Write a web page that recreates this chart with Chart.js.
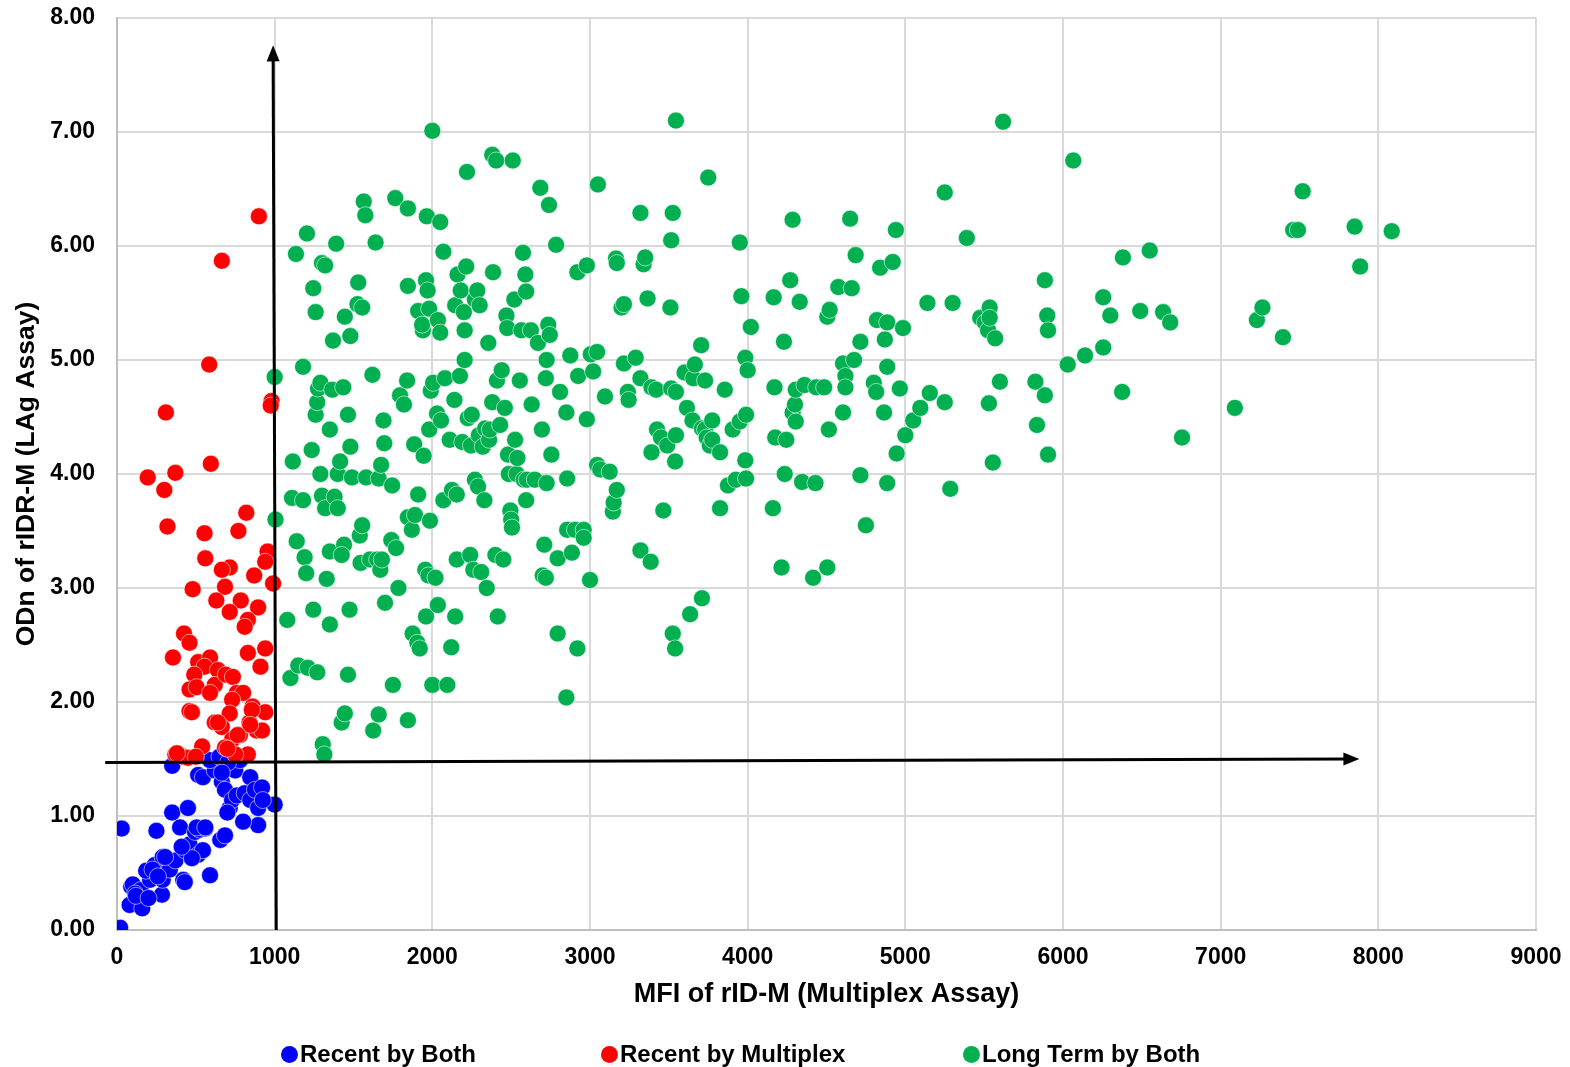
<!DOCTYPE html>
<html>
<head>
<meta charset="utf-8">
<script src="https://cdn.jsdelivr.net/npm/chart.js@4.4.1/dist/chart.umd.min.js"></script>
<style>
  body { margin: 0; background: #fff; }
  #wrap { position: relative; width: 1570px; height: 1067px; }
  #legend { position: absolute; left: 0; top: 1040px; width: 1570px; height: 28px; font: bold 24px "Liberation Sans", Arial, sans-serif; color: #000; }
  .lg-item { position: absolute; top: 0; display: flex; align-items: center; white-space: nowrap; }
  .lg-dot { width: 17px; height: 17px; border-radius: 50%; margin-right: 2px; }
</style>
</head>
<body>
<div id="wrap">
  <canvas id="chart" width="1570" height="1067"></canvas>
  <div id="legend"></div>
</div>
<script>
'use strict';

// --- DADOS ---
const seriesNames = ['Recent by Both', 'Recent by Multiplex', 'Long Term by Both'];
const seriesColors = ['#0000ff', '#ff0000', '#00b050'];

const recentBothX = [20, 30, 250, 80, 90, 100, 150, 160, 210, 185, 240, 285, 290, 290, 335, 370, 350, 350, 400, 420,
  450, 430, 460, 495, 515, 525, 560, 545, 590, 475, 515, 545, 620, 590, 650, 665, 685, 655, 685, 715,
  730, 750, 780, 760, 810, 845, 845, 875, 895, 895, 920, 800, 1000, 925, 115, 225, 305, 410, 505, 560,
  430, 700, 705, 665, 120, 200, 260];
const recentBothY = [0.02, 0.89, 0.87, 0.22, 0.38, 0.40, 0.35, 0.19, 0.44, 0.52, 0.57, 0.31, 0.44, 0.64, 0.53, 0.61, 1.03, 1.44, 0.90, 0.44,
  1.07, 0.70, 0.75, 0.86, 0.66, 0.88, 0.89, 0.70, 0.48, 0.63, 1.36, 1.34, 1.40, 1.49, 1.52, 1.30, 1.23, 0.79, 0.83, 1.07,
  1.14, 1.40, 1.49, 1.18, 1.20, 1.34, 1.14, 1.23, 0.92, 1.07, 1.25, 0.95, 1.10, 1.14, 0.32, 0.53, 0.64, 0.73, 0.90, 0.90,
  0.42, 1.03, 1.47, 1.38, 0.30, 0.28, 0.47];

const recentMultiplexX = [900, 665, 585, 310, 195, 370, 300, 320, 595, 980, 975, 820, 555, 770, 560, 955, 940, 715, 665, 870,
  990, 480, 685, 630, 785, 715, 895, 830, 810, 425, 460, 355, 830, 940, 910, 515, 590, 555, 640, 490,
  620, 460, 505, 590, 690, 735, 760, 800, 730, 460, 715, 860, 940, 620, 840, 665, 885, 920, 780, 730,
  540, 685, 830, 370, 420, 450, 500, 750, 475, 640, 855, 845, 765, 700, 380];
const recentMultiplexY = [6.26, 5.87, 4.96, 4.54, 3.97, 4.01, 3.86, 3.54, 4.09, 4.64, 4.60, 3.66, 3.48, 3.50, 3.26, 3.32, 3.23, 3.18, 3.16, 3.11,
  3.04, 2.99, 3.01, 2.89, 2.89, 2.79, 2.83, 2.72, 2.66, 2.60, 2.52, 2.39, 2.43, 2.47, 2.31, 2.35, 2.39, 2.31, 2.28, 2.24,
  2.15, 2.11, 2.13, 2.08, 2.24, 2.22, 2.08, 2.08, 2.02, 1.92, 1.90, 1.96, 1.91, 1.82, 1.82, 1.78, 1.75, 1.75, 1.71, 1.67,
  1.61, 1.60, 1.54, 1.54, 1.52, 1.51, 1.52, 1.54, 1.91, 1.82, 1.93, 1.80, 1.71, 1.59, 1.55];

const longTermX = [1000, 1005, 1080, 1115, 1110, 1100, 1135, 1140, 1150, 1180, 1180, 1190, 1200, 1205, 1210, 1245, 1235, 1245, 1260, 1270,
  1260, 1270, 1275, 1290, 1300, 1320, 1290, 1300, 1320, 1305, 1315, 1330, 1350, 1350, 1365, 1380, 1350, 1370, 1390, 1400,
  1415, 1400, 1425, 1435, 1445, 1440, 1425, 1445, 1465, 1475, 1480, 1480, 1465, 1490, 1525, 1530, 1540, 1555, 1545, 1555,
  1565, 1575, 1580, 1605, 1620, 1640, 1625, 1660, 1650, 1660, 1670, 1675, 1690, 1680, 1695, 1700, 1740, 1745, 1750, 1765,
  1770, 1785, 1795, 1820, 1840, 1845, 1845, 1845, 1845, 1870, 1875, 1885, 1890, 1910, 1905, 1910, 1920, 1940, 1935, 1945,
  1955, 1960, 1965, 1970, 1960, 1975, 1980, 1980, 1985, 1990, 2000,
  2000, 2005, 2020, 2030, 2035, 2035, 2050, 2050, 2055, 2080, 2070, 2070, 2095, 2110, 2120, 2125, 2140, 2145, 2155, 2145,
  2155, 2160, 2175, 2180, 2190, 2200, 2205, 2215, 2205, 2220, 2225, 2240, 2245, 2250, 2260, 2270, 2270, 2285, 2290, 2295,
  2300, 2310, 2320, 2330, 2335, 2345, 2355, 2360, 2365, 2380, 2380, 2385, 2400, 2405, 2410, 2415, 2430, 2440, 2450, 2460,
  2470, 2475, 2480, 2485, 2495, 2500, 2505, 2510, 2520, 2525, 2535, 2540, 2555, 2565, 2575, 2580, 2590, 2595, 2595, 2600,
  2625, 2630, 2650, 2670, 2685, 2695, 2700, 2710, 2720, 2725, 2720, 2725, 2735, 2740, 2745, 2755, 2785, 2795, 2795, 2810,
  2850, 2850, 2855, 2855, 2875, 2885, 2905, 2920, 2920, 2925, 2960, 2960, 2980, 2980, 3000,
  3005, 3020, 3045, 3050, 3045, 3065, 3095, 3125, 3145, 3150, 3165, 3170, 3170, 3200, 3215, 3215, 3240, 3245, 3290, 3320,
  3320, 3320, 3340, 3350, 3365, 3390, 3390, 3385, 3420, 3425, 3450, 3465, 3490, 3515, 3510, 3525, 3515, 3525, 3545, 3545,
  3540, 3540, 3545, 3600, 3615, 3635, 3650, 3655, 3665, 3705, 3710, 3710, 3730, 3730, 3740, 3750, 3760, 3775, 3775, 3825,
  3825, 3855, 3875, 3905, 3925, 3950, 3950, 3960, 3985, 3990, 3990, 4000,
  4020, 3985, 4160, 4165, 4170, 4175, 4215, 4230, 4235, 4245, 4270, 4285, 4285, 4305, 4300, 4305, 4330, 4345, 4360, 4415,
  4430, 4435, 4485, 4505, 4505, 4515, 4520, 4575, 4605, 4605, 4620, 4620, 4650, 4660, 4675, 4685, 4715, 4715, 4750, 4800,
  4815, 4820, 4840, 4865, 4870, 4885, 4885, 4885, 4920, 4940, 4945, 4965, 4985,
  5000, 5050, 5095, 5140, 5155, 5250, 5250, 5285, 5300, 5390, 5475, 5505, 5525, 5535, 5535, 5530, 5570, 5555, 5600, 5620,
  5825, 5835, 5885, 5885, 5900, 5905, 5905,
  6030, 6065, 6140, 6255, 6255, 6300, 6380, 6375, 6550, 6490, 6635, 6680, 6755, 7090, 7230, 7265, 7395, 7460, 7490, 7520,
  7850, 7885, 8085];
const longTermY = [4.85, 3.60, 2.72, 4.11, 3.79, 2.21, 5.93, 3.41, 2.32, 3.77, 4.94, 3.27, 3.13, 6.11, 2.30, 5.63, 4.21, 2.81, 5.42, 2.26,
  4.52, 4.63, 4.75, 4.80, 5.85, 5.83, 4.00, 3.81, 3.70, 1.63, 1.54, 3.08, 4.39, 2.68, 4.74, 3.80, 3.32, 5.17, 6.02, 4.00,
  4.11, 3.70, 1.82, 4.76, 1.90, 3.38, 3.29, 5.38, 2.24, 2.81, 4.24, 5.21, 4.52, 3.97, 5.49, 5.68, 3.46, 3.55, 3.22, 5.46,
  6.39, 6.27, 3.97, 3.25, 4.87, 6.03, 1.75, 1.89, 3.25, 3.96, 3.16, 4.08, 4.47, 3.25, 4.27, 2.87, 3.42, 3.90, 2.15, 6.42,
  3.35, 3.00, 4.69, 4.61, 4.82, 5.65, 6.33, 1.84, 3.62, 3.51, 2.60, 4.26, 3.64, 3.82, 2.52, 5.43, 2.47, 5.26, 5.31, 4.16,
  3.16, 5.70, 6.26, 5.61, 2.75, 3.11, 5.45, 4.39, 3.59, 4.73, 7.01,
  2.15, 4.80, 3.09, 4.53, 2.85, 5.35, 6.21, 5.24, 4.47, 4.84, 5.95, 3.77, 2.15, 4.30, 2.48, 3.86, 4.65, 5.48, 3.25, 2.75,
  3.82, 5.75, 4.86, 5.61, 4.28, 5.42, 5.00, 5.82, 5.26, 6.65, 4.49, 3.29, 4.25, 4.52, 3.16, 3.95, 5.53, 5.61, 3.89, 4.34,
  5.48, 3.14, 4.24, 3.77, 4.40, 3.00, 5.15, 4.30, 4.39, 6.80, 4.63, 5.77, 3.29, 6.75, 4.82, 2.75, 4.43, 4.91, 3.25, 4.58,
  5.39, 5.28, 4.17, 4.00, 3.68, 3.60, 3.53, 6.75, 5.53, 4.30, 4.00, 4.14, 4.82, 5.26, 5.94, 3.95, 5.75, 5.60, 3.77, 3.95,
  5.26, 4.61, 3.95, 5.15, 6.51, 4.39, 3.11, 3.38, 3.09, 3.92, 4.84, 5.00, 5.31, 6.36, 5.22, 4.17, 6.01, 2.60, 3.26, 4.72,
  2.04, 4.54, 3.51, 3.96, 5.04, 3.31, 3.51, 5.77, 2.47, 4.86, 3.51, 3.44, 5.83, 4.48, 3.07,
  5.05, 4.90, 5.07, 6.54, 4.08, 4.04, 4.68, 4.02, 3.67, 3.75, 5.89, 3.86, 5.85, 5.46, 5.49, 4.97, 4.72, 4.65, 5.02, 6.29,
  3.33, 4.84, 5.84, 5.90, 5.54, 4.76, 4.19, 3.23, 4.74, 4.39, 4.32, 3.68, 4.25, 4.75, 5.46, 6.29, 6.05, 2.60, 4.34, 7.10,
  4.11, 2.47, 4.72, 4.89, 4.58, 2.77, 4.47, 4.84, 4.96, 5.13, 2.91, 4.40, 4.39, 4.82, 4.32, 6.60, 4.25, 4.47, 4.30, 3.70,
  4.19, 4.74, 3.90, 4.39, 3.95, 6.03, 4.46, 5.56, 5.02, 3.96, 4.52, 4.91,
  5.29, 4.12, 3.70, 5.55, 4.76, 4.32, 3.18, 5.16, 4.00, 4.30, 5.70, 6.23, 4.54, 4.46, 4.61, 4.74, 5.51, 3.93, 4.78, 3.09,
  3.92, 4.76, 4.76, 3.18, 5.38, 4.39, 5.44, 5.64, 4.54, 4.97, 4.86, 4.76, 6.24, 5.63, 5.00, 5.92, 3.99, 5.16, 3.55, 4.80,
  4.72, 5.35, 5.81, 4.54, 5.18, 3.92, 5.33, 4.94, 5.86, 6.14, 4.18, 4.75, 5.28,
  4.34, 4.47, 4.58, 5.50, 4.71, 6.47, 4.63, 3.87, 5.50, 6.07, 5.37, 5.33, 5.26, 5.46, 5.37, 4.62, 5.19, 4.10, 4.81, 7.09,
  4.81, 4.43, 5.70, 4.69, 5.39, 5.26, 4.17,
  4.96, 6.75, 5.04, 5.11, 5.55, 5.39, 5.90, 4.72, 5.96, 5.43, 5.42, 5.33, 4.32, 4.58, 5.35, 5.46, 5.20, 6.14, 6.14, 6.48,
  6.17, 5.82, 6.13];

const xTicks = [0, 1000, 2000, 3000, 4000, 5000, 6000, 7000, 8000, 9000];
const yTicks = [0, 1, 2, 3, 4, 5, 6, 7, 8];

// setas de corte (valores nos eixos)
const cutoffVertical = { from: [1010, 0], to: [990, 7.76] };
const cutoffHorizontal = { from: [-75, 1.47], to: [7880, 1.50] };

const FONT = '"Liberation Sans", Arial, sans-serif';

const toPoints = (xs, ys) => xs.map((x, i) => ({ x: x, y: ys[i] }));

// --- SETAS ---
const arrowPlugin = {
  id: 'cutoffArrows',
  afterDatasetsDraw(chart) {
    const { ctx, scales: { x, y } } = chart;
    [cutoffVertical, cutoffHorizontal].forEach(a => {
      const x1 = x.getPixelForValue(a.from[0]), y1 = y.getPixelForValue(a.from[1]);
      const x2 = x.getPixelForValue(a.to[0]), y2 = y.getPixelForValue(a.to[1]);
      const ang = Math.atan2(y2 - y1, x2 - x1);
      const head = 16, half = 6.5;
      ctx.save();
      ctx.strokeStyle = '#000';
      ctx.fillStyle = '#000';
      ctx.lineWidth = 3;
      ctx.beginPath();
      ctx.moveTo(x1, y1);
      ctx.lineTo(x2 - Math.cos(ang) * head * 0.8, y2 - Math.sin(ang) * head * 0.8);
      ctx.stroke();
      ctx.beginPath();
      ctx.moveTo(x2, y2);
      ctx.lineTo(x2 - Math.cos(ang) * head - Math.sin(ang) * half, y2 - Math.sin(ang) * head + Math.cos(ang) * half);
      ctx.lineTo(x2 - Math.cos(ang) * head + Math.sin(ang) * half, y2 - Math.sin(ang) * head - Math.cos(ang) * half);
      ctx.closePath();
      ctx.fill();
      ctx.restore();
    });
  }
};

const seriesData = [
  toPoints(recentBothX, recentBothY),
  toPoints(recentMultiplexX, recentMultiplexY),
  toPoints(longTermX, longTermY)
];

const chart = new Chart(document.getElementById('chart'), {
  type: 'scatter',
  data: {
    datasets: seriesNames.map((name, i) => ({
      label: name,
      data: seriesData[i],
      backgroundColor: seriesColors[i],
      borderColor: 'rgba(255,255,255,0.7)',
      borderWidth: 0.8,
      pointRadius: 8.5,
      pointHoverRadius: 8.5,
      order: 3 - i
    }))
  },
  options: {
    responsive: false,
    animation: false,
    layout: { padding: { top: 18, right: 34, left: 0, bottom: 0 } },
    plugins: { legend: { display: false }, tooltip: { enabled: false } },
    scales: {
      x: {
        type: 'linear',
        min: 0, max: 9000,
        afterBuildTicks: (s) => { s.ticks = xTicks.map(v => ({ value: v })); },
        afterFit: (s) => { s.height = 137; s.paddingLeft = 0; s.paddingRight = 0; },
        grid: { color: '#d9d9d9', lineWidth: 2, drawTicks: false },
        border: { color: '#bfbfbf', width: 2 },
        ticks: { color: '#000', padding: 14, callback: v => String(v), font: { family: FONT, size: 23, weight: 'bold' } },
        title: {
          display: true, text: 'MFI of rID-M (Multiplex Assay)', color: '#000',
          font: { family: FONT, size: 27, weight: 'bold' }, padding: { top: 0, bottom: 56 }
        }
      },
      y: {
        type: 'linear',
        min: 0, max: 8,
        afterBuildTicks: (s) => { s.ticks = yTicks.map(v => ({ value: v })); },
        afterFit: (s) => { s.width = 117; s.paddingTop = 0; s.paddingBottom = 0; },
        grid: { color: '#d9d9d9', lineWidth: 2, drawTicks: false },
        border: { color: '#bfbfbf', width: 2 },
        ticks: { color: '#000', padding: 22, callback: v => v.toFixed(2), font: { family: FONT, size: 23, weight: 'bold' } },
        title: {
          display: true, text: 'ODn of rIDR-M (LAg Assay)', color: '#000',
          font: { family: FONT, size: 26.5, weight: 'bold' }, padding: { top: 11, bottom: 0 }
        }
      }
    }
  },
  plugins: [arrowPlugin]
});

// --- LEGENDA ---
const legendLeft = [281, 601, 963];
const legendEl = document.getElementById('legend');
chart.data.datasets.forEach((ds, i) => {
  const item = document.createElement('div');
  item.className = 'lg-item';
  item.style.left = legendLeft[i] + 'px';
  item.innerHTML = `<span class="lg-dot" style="background:${ds.backgroundColor}"></span><span>${ds.label}</span>`;
  legendEl.appendChild(item);
});
</script>
</body>
</html>
